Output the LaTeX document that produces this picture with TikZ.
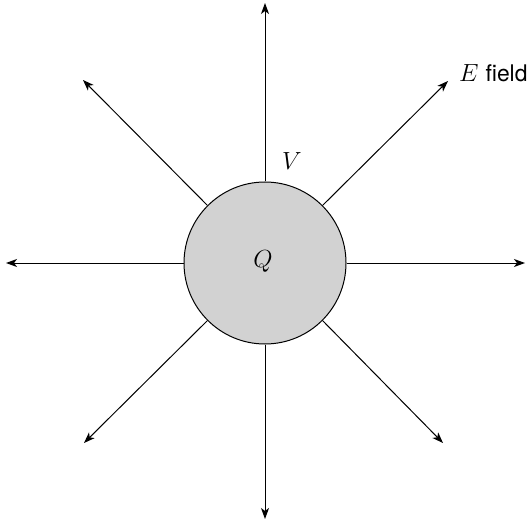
\documentclass[tikz,border=0pt]{standalone}
\usepackage{fontspec}
\setsansfont{TeX Gyre Heros}
\usetikzlibrary{arrows.meta}
\begin{document}
\begin{tikzpicture}[x=1bp,y=-1bp,
  fieldline/.style={line width=1bp, -{Stealth[length=11bp,width=8bp,inset=3bp]}},
  lbl/.style={font=\fontsize{24.88}{28}\selectfont, inner sep=0pt}]
\useasboundingbox (0,0) rectangle (530,522);
\node[circle, draw, line width=1bp, fill=gray!35, minimum size=162bp, inner sep=0pt] (c) at (265,263) {};
\coordinate (tU) at (265,3);
\coordinate (tD) at (265,519);
\coordinate (tL) at (6,263);
\coordinate (tR) at (525,263);
\coordinate (tUL) at (83,80);
\coordinate (tUR) at (448,81);
\coordinate (tDL) at (84,443);
\coordinate (tDR) at (443,443);
\draw[fieldline] (c.north) -- (tU);
\draw[fieldline] (c.south) -- (tD);
\draw[fieldline] (c.west) -- (tL);
\draw[fieldline] (c.east) -- (tR);
\draw[fieldline] (c.north west) -- (tUL);
\draw[fieldline] (c.north east) -- (tUR);
\draw[fieldline] (c.south west) -- (tDL);
\draw[fieldline] (c.south east) -- (tDR);
\node[lbl] (q) at (263,261) {$Q$};
\node[lbl] (v) at (292,161) {$V$};
\node[lbl, anchor=base west, font=\fontsize{23}{27}\selectfont] (e) at (459,82) {$E$ \sffamily field};
\end{tikzpicture}
\end{document}
